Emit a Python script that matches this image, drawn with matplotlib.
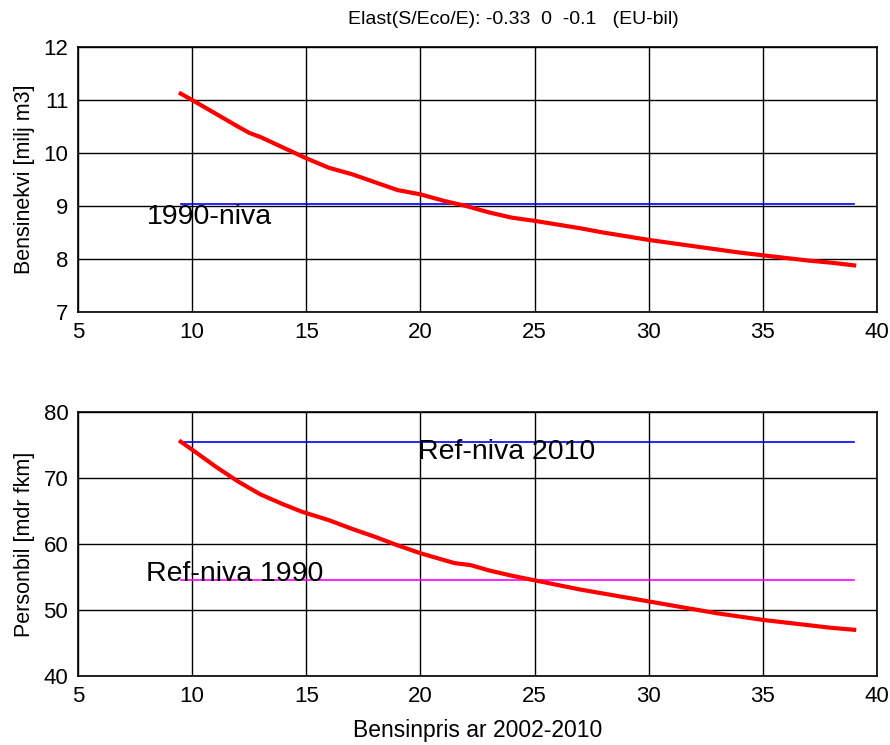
import matplotlib
matplotlib.use("Agg")
import matplotlib.pyplot as plt

# price axis and model results
pris = [9.5, 10, 11, 12, 12.5, 13, 14, 15, 16, 17, 18, 19, 20, 21, 21.5, 22,
        23, 24, 25, 26, 27, 28, 29, 30, 31, 32, 33, 34, 35, 36, 37, 38, 39]
bensin = [11.12, 11.0, 10.75, 10.5, 10.38, 10.3, 10.1, 9.9, 9.72, 9.6, 9.45, 9.3,
          9.22, 9.1, 9.05, 9.0, 8.88, 8.78, 8.72, 8.65, 8.58, 8.5, 8.43, 8.36,
          8.3, 8.24, 8.18, 8.12, 8.07, 8.02, 7.97, 7.93, 7.88]
pris2 = [9.5, 10, 11, 12, 13, 14, 14.8, 16, 17, 18, 19, 20, 21, 21.5, 22.2,
         23, 24, 25, 26, 27, 28, 29, 30, 31, 32, 33, 34, 35, 36, 37, 38, 39]
personbil = [75.5, 74.3, 71.8, 69.5, 67.5, 66.0, 64.9, 63.6, 62.3, 61.1, 59.8,
             58.6, 57.6, 57.1, 56.8, 56.0, 55.2, 54.5, 53.8, 53.1, 52.5, 51.9,
             51.3, 50.7, 50.1, 49.5, 49.0, 48.5, 48.1, 47.7, 47.3, 47.0]

niva_1990_bensin = 9.03
ref_2010 = 75.5
ref_1990 = 54.5
x_range = [9.5, 39]

plt.rcParams['font.family'] = ['Liberation Sans', 'DejaVu Sans']

fig = plt.figure(figsize=(8.9, 7.45), dpi=100)
ax1 = fig.add_axes([78/890, 1 - 312/745, 799/890, 265/745])
ax2 = fig.add_axes([78/890, 1 - 676/745, 799/890, 264/745])

# top panel
ax1.plot(x_range, [niva_1990_bensin] * 2, color='blue', lw=1.2)
ax1.plot(pris, bensin, color='red', lw=3)
ax1.text(8.0, 8.8, '1990-niva', fontsize=20.5, va='center', ha='left')
ax1.set_xlim(5, 40)
ax1.set_ylim(7, 12)
ax1.set_ylabel('Bensinekvi [milj m3]', fontsize=15.5, labelpad=6)

# bottom panel
ax2.plot(x_range, [ref_2010] * 2, color='blue', lw=1.2)
ax2.plot(x_range, [ref_1990] * 2, color='magenta', lw=1.2)
ax2.plot(pris2, personbil, color='red', lw=3)
ax2.text(19.9, 73.9, 'Ref-niva 2010', fontsize=20.5, va='center', ha='left')
ax2.text(8.0, 55.4, 'Ref-niva 1990', fontsize=20.5, va='center', ha='left')
ax2.set_xlim(5, 40)
ax2.set_ylim(40, 80)
ax2.set_ylabel('Personbil [mdr fkm]', fontsize=15.5, labelpad=6)
ax2.set_xlabel('Bensinpris ar 2002-2010', fontsize=16.5, labelpad=9)

for ax in (ax1, ax2):
    ax.set_xticks(range(5, 41, 5))
    ax.grid(True, color='black', lw=1, ls='-')
    ax.set_axisbelow(True)
    ax.tick_params(labelsize=16, direction='in', length=0, pad=7)
    for s in ax.spines.values():
        s.set_linewidth(1.2)

fig.text(513/890, 1 - 20/745, 'Elast(S/Eco/E): -0.33  0  -0.1   (EU-bil)',
         ha='center', va='center', fontsize=14)

fig.savefig('out.png', dpi=100)
